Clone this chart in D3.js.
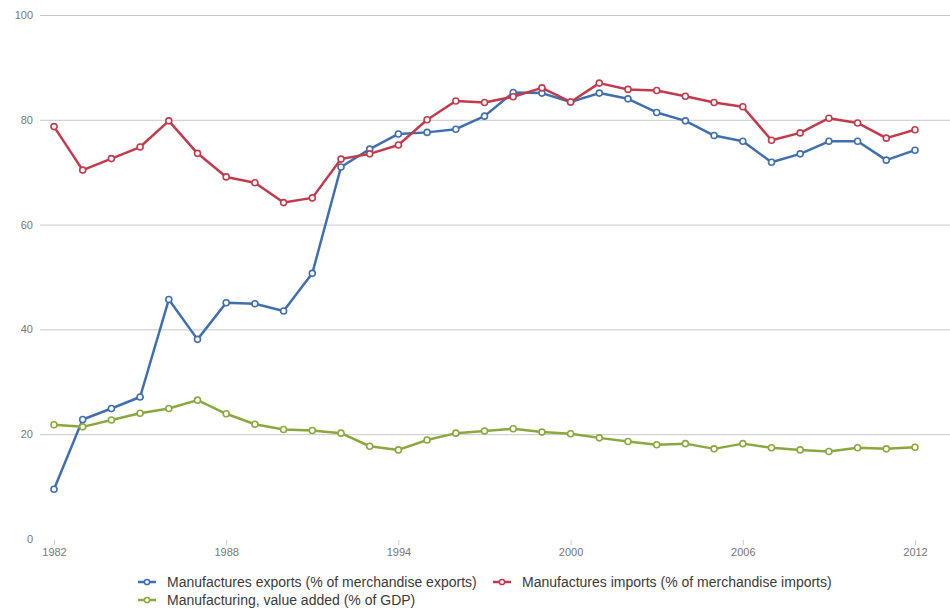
<!DOCTYPE html>
<html><head><meta charset="utf-8">
<script src="https://cdn.jsdelivr.net/npm/d3@7"></script>
<style>body{margin:0;background:#fff;}svg{display:block;font-family:"Liberation Sans",Arial,sans-serif;}</style>
</head><body><svg id="c" width="950" height="609"></svg>
<script>
const years = d3.range(1982, 2013);
const exportsSeries = [9.5,22.8,24.9,27.1,45.7,38.1,45.1,44.9,43.5,50.7,71.0,74.4,77.3,77.6,78.2,80.7,85.2,85.1,83.4,85.1,84.0,81.4,79.8,77.0,75.9,71.9,73.5,75.9,75.9,72.3,74.2];
const importsSeries = [78.7,70.4,72.6,74.8,79.8,73.6,69.1,68.0,64.2,65.1,72.5,73.5,75.2,80.0,83.6,83.3,84.4,86.1,83.4,87.0,85.8,85.6,84.5,83.3,82.5,76.1,77.5,80.3,79.4,76.5,78.1];
const valueAddedSeries = [21.8,21.4,22.7,24.0,24.9,26.5,23.9,21.9,20.9,20.7,20.2,17.7,17.0,18.9,20.2,20.6,21.05,20.4,20.1,19.3,18.6,18.0,18.2,17.2,18.2,17.4,17.0,16.7,17.4,17.2,17.5];
const seriesNames = ["Manufactures exports (% of merchandise exports)","Manufactures imports (% of merchandise imports)","Manufacturing, value added (% of GDP)"];
const seriesColors = ["#3f6fae","#c23a4b","#8aa83e"];
const yTicks = [0,20,40,60,80,100];
const xTicks = [1982,1988,1994,2000,2006,2012];

const svg = d3.select("#c");
const x = d3.scaleLinear().domain([1982,2012]).range([54,915]);
const y = d3.scaleLinear().domain([0,100]).range([539,15]);

svg.append("g").selectAll("line").data(yTicks.filter(d=>d>0)).join("line")
  .attr("x1",40).attr("x2",950).attr("y1",d=>y(d)+0.5).attr("y2",d=>y(d)+0.5)
  .attr("stroke","#c8c8c8").attr("stroke-width",1);

svg.append("g").selectAll("text").data(yTicks).join("text")
  .attr("x",33).attr("y",d=>y(d)+4).attr("text-anchor","end")
  .attr("font-size",11).attr("fill","#777").text(d=>d);

const xAxis = d3.axisBottom(x).tickValues(xTicks).tickFormat(d3.format("d")).tickSize(5).tickPadding(3);
const gx = svg.append("g").attr("transform","translate(0,540)").call(xAxis);
gx.select(".domain").remove();
gx.selectAll(".tick line").attr("stroke","#ccc");
gx.selectAll(".tick text").attr("fill","#777").attr("font-size",11).attr("font-family","Liberation Sans, Arial, sans-serif");

const all = [exportsSeries, importsSeries, valueAddedSeries];
const line = d3.line().x((d,i)=>x(years[i])).y(d=>y(d));
all.forEach((s,k)=>{
  const g = svg.append("g");
  g.append("path").datum(s).attr("d",line).attr("fill","none")
    .attr("stroke",seriesColors[k]).attr("stroke-width",2.5).attr("stroke-linejoin","round");
  g.selectAll("circle").data(s).join("circle")
    .attr("cx",(d,i)=>x(years[i])).attr("cy",d=>y(d)).attr("r",3)
    .attr("fill","#fff").attr("stroke",seriesColors[k]).attr("stroke-width",1.6);
});

const legendPos = [[138,582],[493,582],[138,600]];
seriesNames.forEach((n,k)=>{
  const [lx,ly] = legendPos[k];
  const g = svg.append("g");
  g.append("line").attr("x1",lx).attr("x2",lx+18).attr("y1",ly).attr("y2",ly)
    .attr("stroke",seriesColors[k]).attr("stroke-width",2.5);
  g.append("circle").attr("cx",lx+9).attr("cy",ly).attr("r",2.6)
    .attr("fill","#fff").attr("stroke",seriesColors[k]).attr("stroke-width",1.5);
  g.append("text").attr("x",lx+29).attr("y",ly+5).attr("font-size",14)
    .attr("fill","#3a3a3a").text(n);
});
</script></body></html>
